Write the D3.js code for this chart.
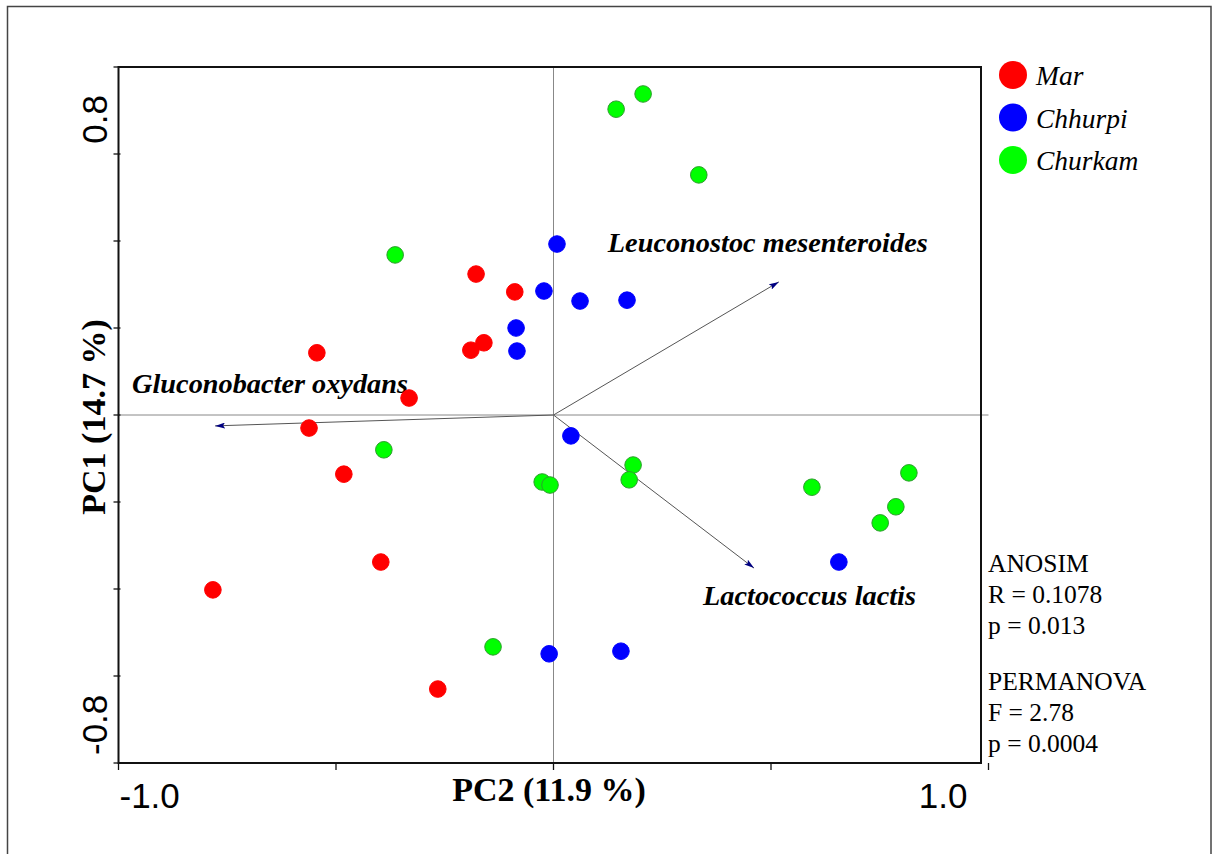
<!DOCTYPE html>
<html>
<head>
<meta charset="utf-8">
<script src="https://cdn.jsdelivr.net/npm/d3@7"></script>
<style>
  body { margin: 0; background: #fff; }
  svg { display: block; }
</style>
</head>
<body>
<div id="chart"></div>
<script>
// sample scores [PC2, PC1]
const marPoints = [
  [-0.178, 0.324], [-0.089, 0.283], [-0.544, 0.143], [-0.190, 0.149],
  [-0.160, 0.166], [-0.332, 0.039], [-0.562, -0.030], [-0.482, -0.136],
  [-0.397, -0.338], [-0.783, -0.402], [-0.266, -0.630]
];
const chhurpiPoints = [
  [0.008, 0.393], [-0.022, 0.285], [0.061, 0.262], [0.169, 0.264],
  [-0.086, 0.200], [-0.084, 0.147], [0.040, -0.048], [0.656, -0.338],
  [-0.010, -0.549], [0.155, -0.543]
];
const churkamPoints = [
  [0.144, 0.703], [0.206, 0.738], [0.334, 0.552], [-0.364, 0.368],
  [-0.390, -0.080], [-0.026, -0.154], [-0.008, -0.161], [0.183, -0.115],
  [0.174, -0.149], [0.594, -0.166], [0.817, -0.133], [0.787, -0.211],
  [0.751, -0.248], [-0.139, -0.533]
];
const groups = ['Mar', 'Chhurpi', 'Churkam'];

// species vectors [PC2, PC1]
const species = ['Leuconostoc mesenteroides', 'Gluconobacter oxydans', 'Lactococcus lactis'];
const speciesTips = [[0.518, 0.306], [-0.778, -0.025], [0.461, -0.352]];

const xTicks = [-1.0, -0.5, 0, 0.5, 1.0];
const yTicks = [-0.8, -0.6, -0.4, -0.2, 0, 0.2, 0.4, 0.6, 0.8];
const anosimLines = ['ANOSIM', 'R = 0.1078', 'p = 0.013'];
const permanovaLines = ['PERMANOVA', 'F = 2.78', 'p = 0.0004'];

const W = 1216, H = 854;
const serif = '"Liberation Serif", "Times New Roman", serif';
const sans = '"Liberation Sans", Arial, sans-serif';
const colors = {Mar: '#ff0000', Chhurpi: '#0000ff', Churkam: '#00ff00'};
const strokes = {Mar: '#ff0000', Chhurpi: '#0000ff', Churkam: '#2e9e2e'};

const svg = d3.select('#chart').append('svg')
  .attr('width', W)
  .attr('height', H);

// outer border
svg.append('rect')
  .attr('x', 7.5).attr('y', 6.5)
  .attr('width', 1203.5).attr('height', H + 10)
  .attr('fill', 'none')
  .attr('stroke', '#444')
  .attr('stroke-width', 1.5);

const x = d3.scaleLinear().domain([-1, 1]).range([118.5, 988.5]);
const y = d3.scaleLinear().domain([-0.8, 0.8]).range([763, 67]);

// zero lines
svg.append('line')
  .attr('x1', x(-1)).attr('x2', x(1))
  .attr('y1', y(0)).attr('y2', y(0))
  .attr('stroke', '#888').attr('stroke-width', 1);
svg.append('line')
  .attr('x1', x(0)).attr('x2', x(0))
  .attr('y1', y(0.8)).attr('y2', y(-0.8))
  .attr('stroke', '#888').attr('stroke-width', 1);

// frame (right edge falls a little short of the 1.0 tick, as in the original)
svg.append('path')
  .attr('d', `M${x(-1)},${y(0.8)}H${x(1) - 7.5}V${y(-0.8)}H${x(-1)}Z`)
  .attr('fill', 'none')
  .attr('stroke', '#111')
  .attr('stroke-width', 2);

// ticks
svg.append('g').selectAll('line')
  .data(xTicks)
  .join('line')
    .attr('x1', d => x(d)).attr('x2', d => x(d))
    .attr('y1', y(-0.8)).attr('y2', y(-0.8) + 7)
    .attr('stroke', '#111').attr('stroke-width', 1.3);
svg.append('g').selectAll('line')
  .data(yTicks)
  .join('line')
    .attr('x1', x(-1) - 5).attr('x2', x(-1) + 2)
    .attr('y1', d => y(d)).attr('y2', d => y(d))
    .attr('stroke', '#111').attr('stroke-width', 1.3);

// tick labels, CANOCO style: only the ends, set inside
const fmt = v => d3.format('.1f')(v).replace('−', '-');
svg.append('text')
  .attr('x', x(-1) + 1).attr('y', 808)
  .attr('font-family', sans).attr('font-size', 35)
  .text(fmt(xTicks[0]));
svg.append('text')
  .attr('x', x(1) - 21).attr('y', 808)
  .attr('text-anchor', 'end')
  .attr('font-family', sans).attr('font-size', 35)
  .text(fmt(xTicks[xTicks.length - 1]));
svg.append('text')
  .attr('transform', `translate(107,${y(0.8) + 28}) rotate(-90)`)
  .attr('text-anchor', 'end')
  .attr('font-family', sans).attr('font-size', 35)
  .text(fmt(yTicks[yTicks.length - 1]));
svg.append('text')
  .attr('transform', `translate(107,${y(-0.8) - 8}) rotate(-90)`)
  .attr('font-family', sans).attr('font-size', 35)
  .text(fmt(yTicks[0]));

// axis titles
svg.append('text')
  .attr('x', 549).attr('y', 801)
  .attr('text-anchor', 'middle')
  .attr('font-family', serif).attr('font-size', 34).attr('font-weight', 'bold')
  .text('PC2 (11.9 %)');
svg.append('text')
  .attr('transform', 'translate(105,417) rotate(-90)')
  .attr('text-anchor', 'middle')
  .attr('font-family', serif).attr('font-size', 34).attr('font-weight', 'bold')
  .text('PC1 (14.7 %)');

// species arrows
svg.append('defs').append('marker')
  .attr('id', 'head')
  .attr('viewBox', '0 0 10 6')
  .attr('refX', 10).attr('refY', 3)
  .attr('markerWidth', 10).attr('markerHeight', 6)
  .attr('markerUnits', 'userSpaceOnUse')
  .attr('orient', 'auto')
  .append('path')
    .attr('d', 'M0,0L10,3L0,6L2,3Z')
    .attr('fill', '#000080');

svg.append('g').selectAll('line')
  .data(speciesTips)
  .join('line')
    .attr('x1', x(0)).attr('y1', y(0))
    .attr('x2', d => x(d[0])).attr('y2', d => y(d[1]))
    .attr('stroke', '#555').attr('stroke-width', 1)
    .attr('marker-end', 'url(#head)');

const labelOffsets = [[-171, -30], [-83, -33], [-51, 37]];
svg.append('g').selectAll('text')
  .data(species)
  .join('text')
    .attr('x', (d, i) => x(speciesTips[i][0]) + labelOffsets[i][0])
    .attr('y', (d, i) => y(speciesTips[i][1]) + labelOffsets[i][1])
    .attr('font-family', serif).attr('font-size', 28.3)
    .attr('font-weight', 'bold').attr('font-style', 'italic')
    .text(d => d);

// sample points
const allPoints = [
  ...marPoints.map(p => ({g: 'Mar', p})),
  ...chhurpiPoints.map(p => ({g: 'Chhurpi', p})),
  ...churkamPoints.map(p => ({g: 'Churkam', p}))
];
svg.append('g').selectAll('circle')
  .data(allPoints)
  .join('circle')
    .attr('cx', d => x(d.p[0]))
    .attr('cy', d => y(d.p[1]))
    .attr('r', 8.3)
    .attr('fill', d => colors[d.g])
    .attr('stroke', d => strokes[d.g])
    .attr('stroke-width', 1);

// legend
const legend = svg.append('g').selectAll('g')
  .data(groups)
  .join('g')
    .attr('transform', (d, i) => `translate(1013,${75 + i * 42.5})`);
legend.append('circle')
  .attr('r', 14)
  .attr('fill', d => colors[d]);
legend.append('text')
  .attr('x', 23).attr('y', 10)
  .attr('font-family', serif).attr('font-size', 27.5).attr('font-style', 'italic')
  .text(d => d);

// test statistics, two blocks
[[anosimLines, 572], [permanovaLines, 690]].forEach(([lines, top]) => {
  svg.append('g').selectAll('text')
    .data(lines)
    .join('text')
      .attr('x', 988)
      .attr('y', (d, i) => top + i * 31)
      .attr('font-family', serif).attr('font-size', 25.5)
      .text(d => d);
});
</script>
</body>
</html>
